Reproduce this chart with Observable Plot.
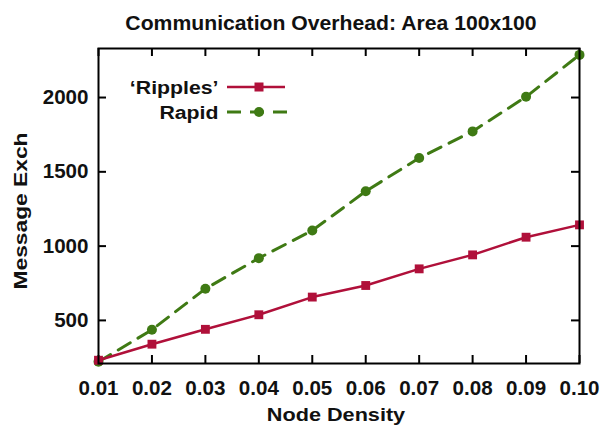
<!DOCTYPE html>
<html><head><meta charset="utf-8">
<script src="https://cdn.jsdelivr.net/npm/d3@7"></script>
<script src="https://cdn.jsdelivr.net/npm/@observablehq/plot@0.6"></script>
<style>body{margin:0;background:#fff}</style>
</head><body><div id="chart"></div>
<script>
const density = [0.01,0.02,0.03,0.04,0.05,0.06,0.07,0.08,0.09,0.10];
const ripples = [232,340,440,538,657,735,847,941,1060,1143];
const rapid   = [222,437,713,919,1105,1369,1593,1772,2005,2287];
const xTicks = [0.01,0.02,0.03,0.04,0.05,0.06,0.07,0.08,0.09,0.10];
const yTicks = [500,1000,1500,2000];
const seriesNames = ["\u2018Ripples\u2019", "Rapid"];
const titleText = "Communication Overhead: Area 100x100";
const xLabel = "Node Density";
const yLabel = "Message Exch";
const colors = ["#b0103a", "#3f7a14"];

const W = 600, H = 431, mL = 98, mR = 21, mT = 48, mB = 68;
const pw = W - mL - mR, ph = H - mT - mB;
const font = "'Liberation Sans', Arial, sans-serif";

const rowsR = density.map((x,i) => ({x, y: ripples[i]}));
const rowsG = density.map((x,i) => ({x, y: rapid[i]}));

function legendSamples(index, scales, values, dims) {
  const g = d3.create("svg:g");
  const x0 = dims.marginLeft + 129, x1 = dims.marginLeft + 187, xm = dims.marginLeft + 161;
  const y0 = dims.marginTop + 39, y1 = dims.marginTop + 64;
  g.append("line").attr("x1", x0).attr("x2", x1).attr("y1", y0).attr("y2", y0)
    .attr("stroke", colors[0]).attr("stroke-width", 2.5);
  g.append("rect").attr("x", xm-4.5).attr("y", y0-4.5).attr("width", 9).attr("height", 9).attr("fill", colors[0]);
  g.append("line").attr("x1", x0).attr("x2", x1+6).attr("y1", y1).attr("y2", y1)
    .attr("stroke", colors[1]).attr("stroke-width", 3).attr("stroke-dasharray", "14,9");
  g.append("circle").attr("cx", xm).attr("cy", y1).attr("r", 5).attr("fill", colors[1]);
  return g.node();
}

const txt = {fontWeight: "bold", fill: "#111", lineAnchor: "middle"};

const chart = Plot.plot({
  width: W, height: H,
  marginLeft: mL, marginRight: mR, marginTop: mT, marginBottom: mB,
  style: {fontFamily: font, fontSize: "20px", fontWeight: "bold", color: "#111", background: "#fff"},
  x: {domain: [0.01, 0.10], ticks: xTicks, tickFormat: d3.format(".2f"), tickSize: 0, tickPadding: 17, label: null},
  y: {domain: [210, 2330], ticks: yTicks, tickFormat: d3.format("d"), tickSize: 0, tickPadding: 10, label: null},
  marks: [
    Plot.tickX(xTicks, {x: d => d, insetTop: ph - 8, stroke: "#000", strokeWidth: 2}),
    Plot.tickX(xTicks, {x: d => d, insetBottom: ph - 8, stroke: "#000", strokeWidth: 2}),
    Plot.tickY(yTicks, {y: d => d, insetRight: pw - 8, stroke: "#000", strokeWidth: 2}),
    Plot.tickY(yTicks, {y: d => d, insetLeft: pw - 8, stroke: "#000", strokeWidth: 2}),
    Plot.line(rowsG, {x: "x", y: "y", stroke: colors[1], strokeWidth: 3, strokeDasharray: "14,9"}),
    Plot.dot(rowsG, {x: "x", y: "y", fill: colors[1], r: 5, symbol: "circle"}),
    Plot.line(rowsR, {x: "x", y: "y", stroke: colors[0], strokeWidth: 2.5}),
    Plot.dot(rowsR, {x: "x", y: "y", fill: colors[0], r: 5, symbol: "square"}),
    Plot.frame({stroke: "#000", strokeWidth: 2}),
    Plot.text([seriesNames[0]], {...txt, text: d => d, frameAnchor: "top-left", dx: 120, dy: 39, textAnchor: "end", fontSize: 19}),
    Plot.text([seriesNames[1]], {...txt, text: d => d, frameAnchor: "top-left", dx: 120, dy: 64, textAnchor: "end", fontSize: 19}),
    legendSamples,
    Plot.text([titleText], {...txt, text: d => d, frameAnchor: "top", dx: -8, dy: -25, fontSize: 20}),
    Plot.text([xLabel], {...txt, text: d => d, frameAnchor: "bottom", dx: -3, dy: 51, fontSize: 19}),
    Plot.text([yLabel], {...txt, text: d => d, frameAnchor: "left", textAnchor: "middle", dx: -78, dy: 5, rotate: -90, fontSize: 19})
  ]
});

// widen glyphs along the reading direction, as in the reference rendering
const sxFor = t => t === titleText ? 1.06 : t === xLabel ? 1.14 : t === yLabel ? 1.2
  : (t === seriesNames[0] || t === seriesNames[1]) ? 1.12 : 1.03;
d3.select(chart).selectAll("text").each(function() {
  const el = d3.select(this);
  const sx = sxFor(this.textContent);
  const tr = el.attr("transform");
  if (tr) el.attr("transform", tr + ` scale(${sx},1)`);
  else {
    const x = +el.attr("x") || 0, y = +el.attr("y") || 0;
    el.attr("transform", `translate(${x},${y}) scale(${sx},1) translate(${-x},${-y})`);
  }
});
document.getElementById("chart").appendChild(chart);
</script>
</body></html>
